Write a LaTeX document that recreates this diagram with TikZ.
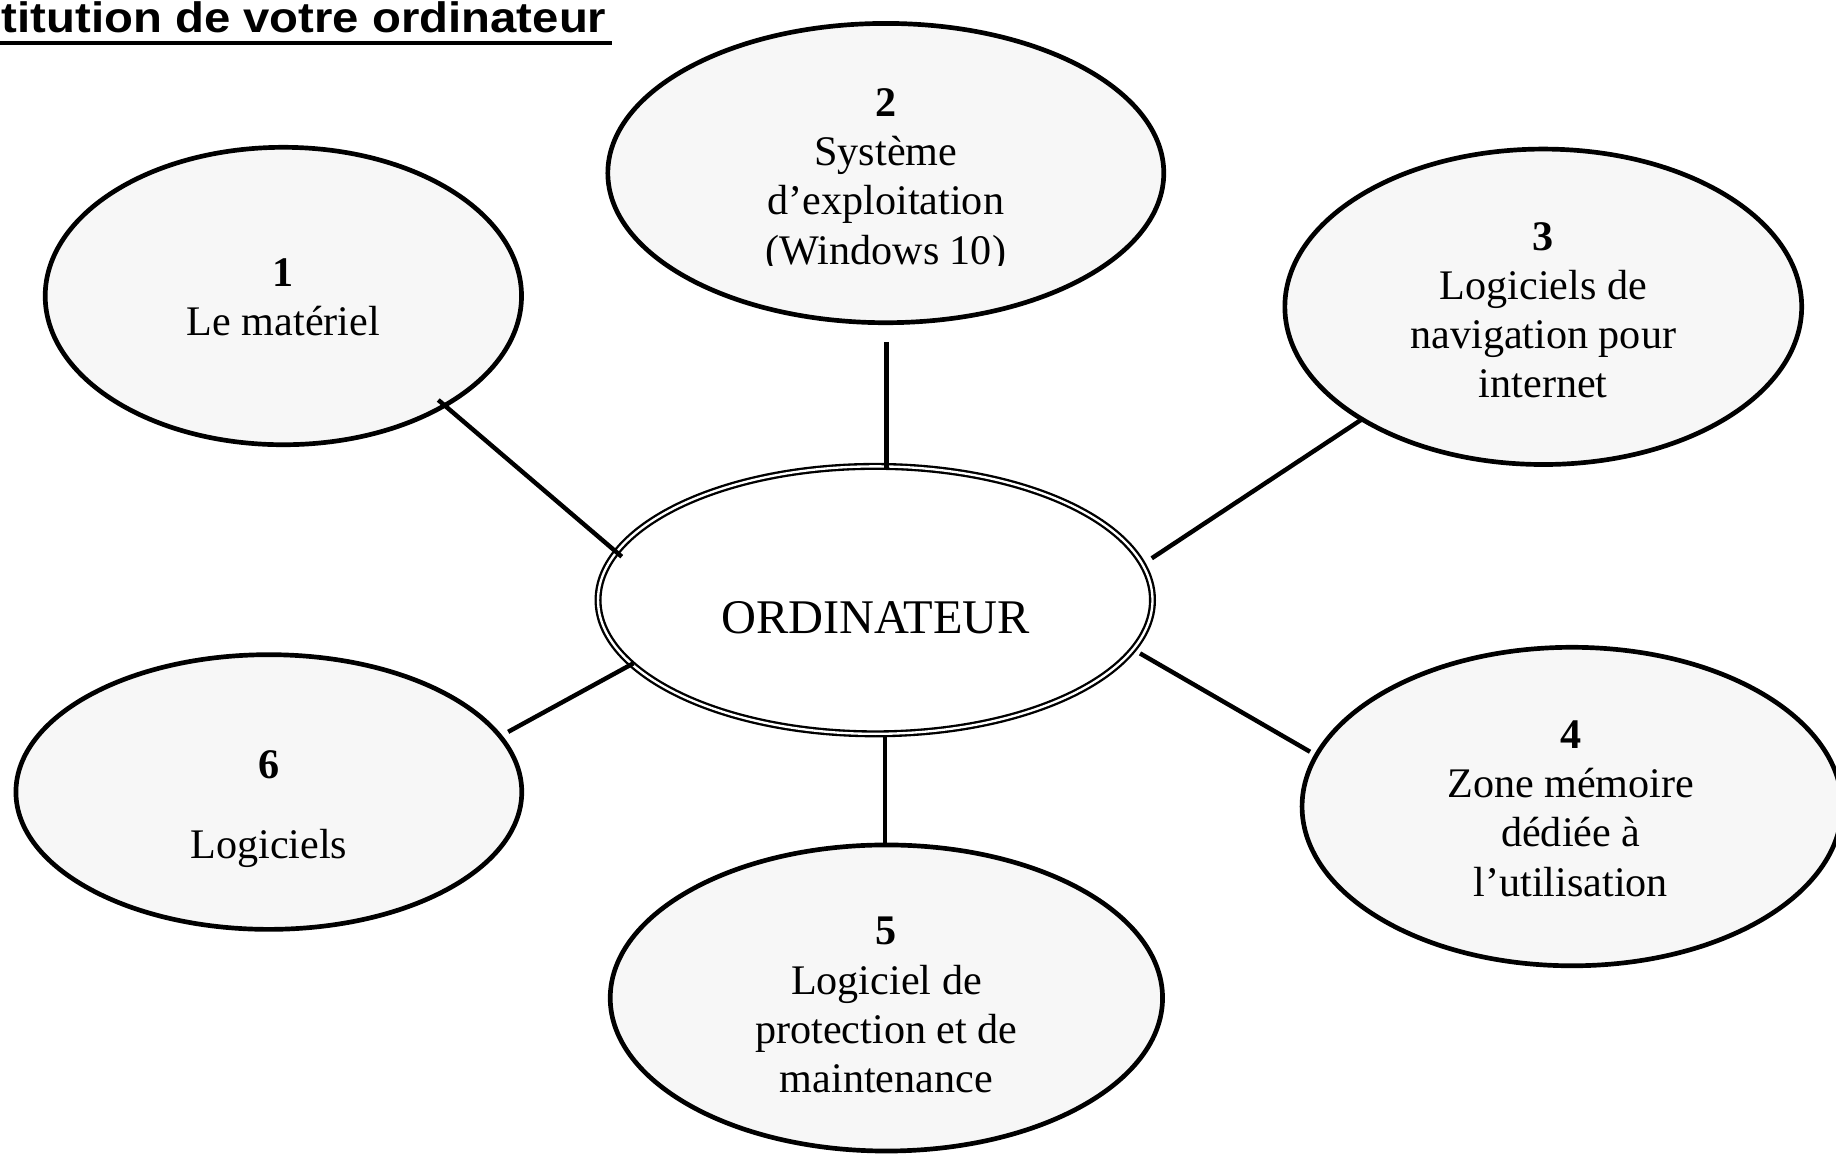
\documentclass[tikz,border=0pt]{standalone}
\usepackage{fontspec}
\setmainfont{Liberation Serif}
\newfontfamily\titlefont{Liberation Sans}
\usetikzlibrary{shapes.geometric}
\definecolor{bubblefill}{HTML}{F7F7F7}
\newcommand\firststrut{\rule{0pt}{30pt}}
\begin{document}
\begin{tikzpicture}[x=1pt,y=-1pt,
  bubble/.style={ellipse, draw=black, line width=4pt, fill=bubblefill, inner sep=0pt, outer sep=0pt},
  hub/.style={ellipse, draw=black, double=white, double distance=2pt, line width=2pt, fill=white, inner sep=0pt, outer sep=0pt},
  btext/.style={anchor=north, inner sep=0pt, outer sep=0pt, align=center, font=\fontsize{36}{42}\selectfont},
  link/.style={line width=3.8pt}
]
\fill[white] (0,0) rectangle (1568,986);
\useasboundingbox (0,0) rectangle (1568,986);

% title
\node (title) [anchor=base east, inner sep=0pt, font=\titlefont\fontsize{40.4}{48}\selectfont\bfseries] at (518,27.5) {\scalebox{1}[0.9]{titution de votre ordinateur}};
\coordinate (ulA) at (0,36.5);
\coordinate (ulB) at (523,36.5);
\draw[line width=3.7pt] (ulA) -- (ulB);

% satellites
\node (e1) [bubble, minimum width=406.8pt, minimum height=254pt] at (242,252.8) {};
\node (e2) [bubble, minimum width=474.8pt, minimum height=255.6pt] at (756.5,147.8) {};
\node (e3) [bubble, minimum width=441.4pt, minimum height=269.4pt] at (1318,262) {};
\node (e4) [bubble, minimum width=461pt, minimum height=272pt] at (1342.5,688.8) {};
\node (e5) [bubble, minimum width=471.7pt, minimum height=261.4pt] at (757,852.3) {};
\node (e6) [bubble, minimum width=432pt, minimum height=234.6pt] at (229.6,676.4) {};

% hub
\node (hub) [hub, minimum width=473.5pt, minimum height=228.4pt] at (747.5,512.5) {};

% connectors
\coordinate (l1a) at (374.3,341.6); \coordinate (l1b) at (531,475.4);
\coordinate (l2a) at (757,292);     \coordinate (l2b) at (757,401);
\coordinate (l3a) at (1164.3,357.3);\coordinate (l3b) at (983.6,476.8);
\coordinate (l4a) at (973.6,558);   \coordinate (l4b) at (1118.8,642);
\coordinate (l5a) at (756,629);     \coordinate (l5b) at (756,719.6);
\coordinate (l6a) at (540.9,566.5); \coordinate (l6b) at (434,625);
\draw[link] (l1a) -- (l1b);
\draw[link] (l2a) -- (l2b);
\draw[link] (l3a) -- (l3b);
\draw[link] (l4a) -- (l4b);
\draw[link] (l5a) -- (l5b);
\draw[link] (l6a) -- (l6b);

% texts
\node (hubtext) [anchor=base, inner sep=0pt, font=\fontsize{41.3}{48}\selectfont] at (747.8,541) {ORDINATEUR};
\node (t1) [btext] at (242,214.8) {\firststrut\textbf{1}\\Le matériel};
\begin{scope}
\clip (480,0) rectangle (1030,226.5);
\node (t2) [btext] at (756.5,69.5) {\firststrut\textbf{2}\\Système\\d’exploitation\\(Windows 10)};
\end{scope}
\node (t3) [btext] at (1318,183.5) {\firststrut\textbf{3}\\Logiciels de\\navigation pour\\internet};
\node (t4) [btext] at (1341.5,609.3) {\firststrut\textbf{4}\\Zone mémoire\\dédiée à\\l’utilisation};
\node (t5) [btext] at (757,777) {\firststrut\textbf{5}\\Logiciel de\\protection et de\\maintenance};
\node (t6) [btext] at (229.6,634.6) {\firststrut\textbf{6}\\[26.4pt]Logiciels};
\end{tikzpicture}
\end{document}
